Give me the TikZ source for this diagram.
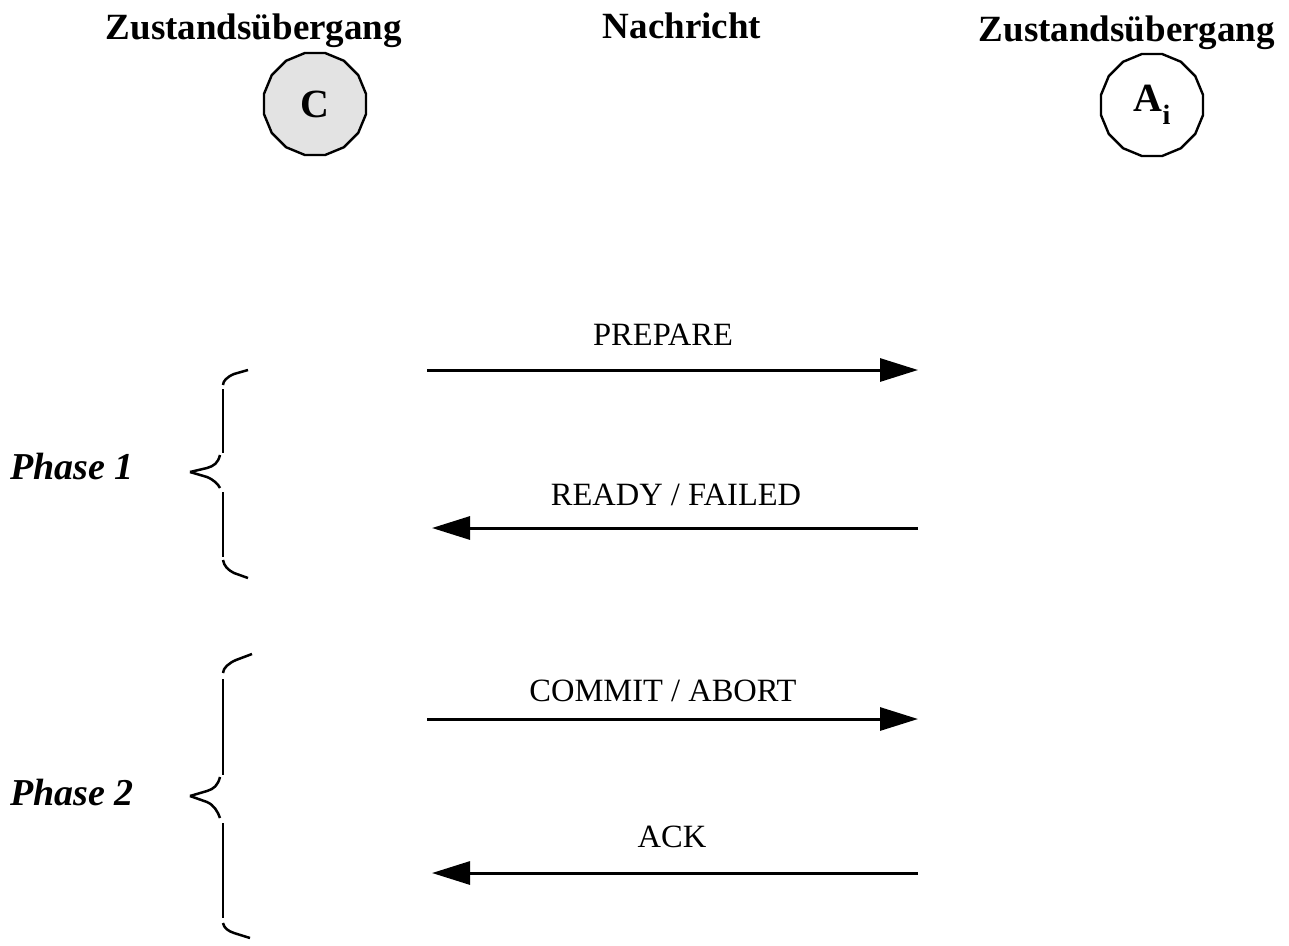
\documentclass[tikz,border=0pt]{standalone}
\usepackage{fontspec}
\setmainfont{Liberation Serif}
\usetikzlibrary{shapes.geometric,arrows.meta}
\begin{document}
\begin{tikzpicture}[x=1pt,y=-1pt,
  hdr/.style={font=\fontsize{37}{40}\selectfont\bfseries, inner sep=0pt},
  msg/.style={font=\fontsize{32.5}{36}\selectfont, inner sep=0pt},
  phase/.style={font=\fontsize{38}{42}\selectfont\bfseries\itshape, inner sep=0pt, anchor=west},
  state/.style={draw, line width=2.4pt, regular polygon, regular polygon sides=16, minimum size=104pt, inner sep=0pt, font=\fontsize{40}{44}\selectfont\bfseries},
  msgline/.style={line width=3pt, -{Triangle[length=38pt,width=23pt]}},
  brace/.style={line width=2.5pt, line cap=butt}]
\useasboundingbox (0,0) rectangle (1289,945);
% headers
\node[hdr] (h1) at (254,31) {Zustandsübergang};
\node[hdr] (h2) at (682,26) {Nachricht};
\node[hdr] (h3) at (1127,33) {Zustandsübergang};
% states
\node[state, fill=black!11] (C) at (315,104) {C};
\node[state] (A) at (1152,105) {A\raisebox{-0.32em}{\fontsize{28}{30}\selectfont i}};
% phases
\node[phase] (ph1) at (10,467) {Phase 1};
\node[phase] (ph2) at (10,792) {Phase 2};
% message endpoints
\coordinate (p1a) at (427,370); \coordinate (p1b) at (918,370);
\coordinate (r1a) at (918,528); \coordinate (r1b) at (432,528);
\coordinate (c1a) at (427,719); \coordinate (c1b) at (918,719);
\coordinate (k1a) at (918,873); \coordinate (k1b) at (432,873);
\draw[msgline] (p1a) -- (p1b);
\draw[msgline] (r1a) -- (r1b);
\draw[msgline] (c1a) -- (c1b);
\draw[msgline] (k1a) -- (k1b);
% labels
\node[msg] (lp) at (663,335) {PREPARE};
\node[msg] (lr) at (676,495) {READY / FAILED};
\node[msg] (lc) at (663,691) {COMMIT / ABORT};
\node[msg] (lk) at (672,837) {ACK};
% brace 1
\draw[brace] (248,370) -- (234,374) .. controls (227,377) and (223,381) .. (223,385);
\draw[brace] (223,389) -- (223,453);
\draw[brace] (220,455) .. controls (218,463) and (214,466) .. (207,468) -- (190,472);
\draw[brace] (190,472) -- (207,477) .. controls (214,480) and (218,484) .. (220,488);
\draw[brace] (223,492) -- (223,557);
\draw[brace] (223,560) .. controls (224,566) and (228,570) .. (234,573) -- (248,578);
% brace 2
\draw[brace] (252,654) -- (236,660) .. controls (229,663) and (223,668) .. (223,673);
\draw[brace] (223,679) -- (223,775);
\draw[brace] (220,777) .. controls (218,785) and (214,789) .. (207,791) -- (190,796);
\draw[brace] (190,796) -- (207,802) .. controls (214,805) and (218,812) .. (220,818);
\draw[brace] (223,823) -- (223,918);
\draw[brace] (223,923) .. controls (224,928) and (228,931) .. (234,933) -- (250,938);
\end{tikzpicture}
\end{document}
